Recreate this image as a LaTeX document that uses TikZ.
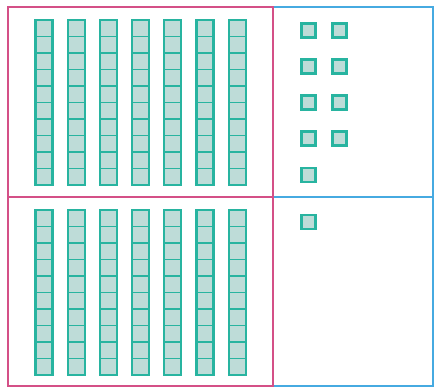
\documentclass[tikz,border=0pt]{standalone}
\definecolor{teal1}{RGB}{40,180,160}
\definecolor{cellfill}{RGB}{190,220,216}
\definecolor{pinkline}{RGB}{212,80,135}
\definecolor{blueline}{RGB}{70,170,225}
\begin{document}
\begin{tikzpicture}[x=1pt,y=-1pt,
  cellbox/.style={draw=teal1,fill=cellfill,line width=1.3pt},
  rodbox/.style={draw=teal1,line width=2.2pt},
  unitbox/.style={draw=teal1,fill=cellfill,line width=2.6pt},
  pinkbox/.style={draw=pinkline,line width=1.8pt},
  bluebox/.style={draw=blueline,line width=1.8pt}]
\useasboundingbox (0,0) rectangle (435,389);
\fill[white] (0,0) rectangle (435,389);
% place-value boxes
\draw[bluebox] (273,7) rectangle (433,386);
\draw[bluebox] (273,197) -- (433,197);
\draw[pinkbox] (8,7) rectangle (273,386);
\draw[pinkbox] (8,197) -- (273,197);
% rods (tens)
\foreach \ytop in {20,210}{
  \foreach \i in {0,...,6}{
    \pgfmathsetmacro{\xl}{35.5+32.2*\i}
    \foreach \k in {0,...,9}{
      \draw[cellbox] (\xl,\ytop+16.5*\k) rectangle (\xl+17,\ytop+16.5*\k+16.5);
    }
    \draw[rodbox] (\xl,\ytop) rectangle (\xl+17,\ytop+165);
  }
}
% units
\foreach \r in {0,...,3}{
  \draw[unitbox] (301.5,23.5+36*\r) rectangle (315.5,37.5+36*\r);
  \draw[unitbox] (332.5,23.5+36*\r) rectangle (346.5,37.5+36*\r);
}
\draw[unitbox] (301.5,168) rectangle (315.5,182);
\draw[unitbox] (301.5,215) rectangle (315.5,229);
\end{tikzpicture}
\end{document}
